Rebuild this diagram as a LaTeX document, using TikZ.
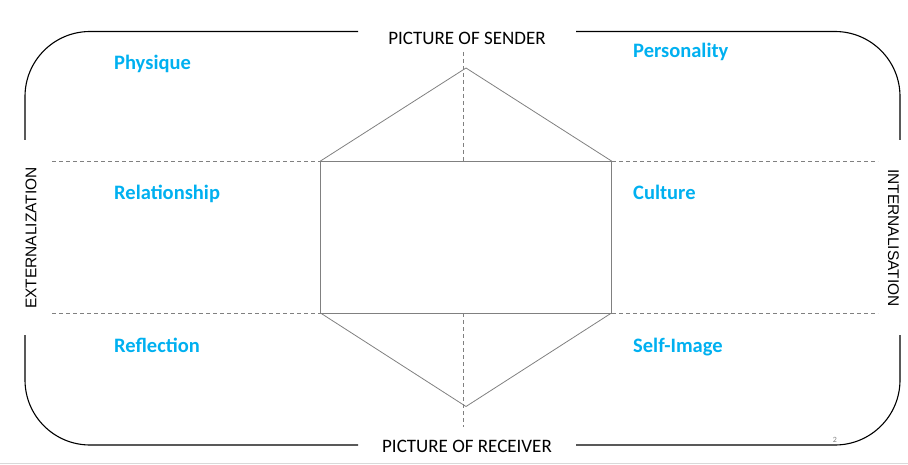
\documentclass[tikz,border=0pt]{standalone}
\usepackage{fontspec}
\setmainfont{Carlito}
\newfontfamily\arialfont{Liberation Sans}
\definecolor{labelblue}{RGB}{0,176,240}
\definecolor{linegray}{RGB}{128,128,128}
\begin{document}
\begin{tikzpicture}[x=1pt,y=-1pt,
  frameline/.style={black,line width=1.1pt,rounded corners=65pt},
  hexline/.style={linegray,line width=0.8pt,line join=miter},
  dashline/.style={linegray,line width=0.8pt,dash pattern=on 4pt off 3pt},
  bluelabel/.style={font=\fontsize{20.5}{24}\selectfont\bfseries,text=labelblue,anchor=base west,inner sep=0pt},
  titletext/.style={font=\fontsize{19}{22}\selectfont,anchor=base,inner sep=0pt},
  sidetext/.style={font=\arialfont\fontsize{15.5}{18}\selectfont,inner sep=0pt}]
\useasboundingbox (0,0) rectangle (908,465);
% page edge
\draw[black!15,line width=1pt] (0,463.5) -- (908,463.5);
% frame pieces
\draw[frameline] (358,31.5) -- (25,31.5) -- (25,140);
\draw[frameline] (576,31.5) -- (900,31.5) -- (900,140);
\draw[frameline] (25,335) -- (25,445) -- (358,445);
\draw[frameline] (900,335) -- (900,445) -- (576,445);
% dashed horizontal lines
\coordinate (dl1) at (52,161);
\coordinate (dr1) at (878,161);
\coordinate (dl2) at (52,313);
\coordinate (dr2) at (878,313);
\draw[dashline] (dl1) -- (dr1);
\draw[dashline] (dl2) -- (dr2);
% hexagon
\coordinate (top) at (466,68);
\coordinate (ul) at (320.5,161);
\coordinate (ur) at (611.5,161);
\coordinate (ll) at (320.5,313);
\coordinate (lr) at (611.5,313);
\coordinate (bot) at (466,406.5);
\coordinate (vt1) at (463.3,52);
\coordinate (vt2) at (463.3,161);
\coordinate (vb1) at (463.3,313);
\coordinate (vb2) at (463.3,427);
\draw[dashline] (vt1) -- (vt2);
\draw[dashline] (vb1) -- (vb2);
\draw[hexline] (ul) -- (top) -- (ur) -- (lr) -- (bot) -- (ll) -- cycle;
\draw[hexline] (ul) -- (ur);
\draw[hexline] (ll) -- (lr);
% titles
\node[titletext] (sender) at (467,45) {PICTURE OF SENDER};
\node[titletext] (receiver) at (467,452) {PICTURE OF RECEIVER};
\node[sidetext,rotate=90] (ext) at (31,238) {EXTERNALIZATION};
\node[sidetext,rotate=-90] (int) at (893.5,238) {INTERNALISATION};
% blue labels
\node[bluelabel] (physique) at (114,70) {Physique};
\node[bluelabel] (personality) at (633,58) {Personality};
\node[bluelabel] (relationship) at (114,199.5) {Relationship};
\node[bluelabel] (culture) at (633,199.5) {Culture};
\node[bluelabel] (reflection) at (114,352) {Reflection};
\node[bluelabel] (selfimage) at (633,352) {Self-Image};
% page number
\node[font=\fontsize{8}{9}\selectfont,text=linegray,inner sep=0pt] (pagenum) at (835,440) {2};
\end{tikzpicture}
\end{document}
